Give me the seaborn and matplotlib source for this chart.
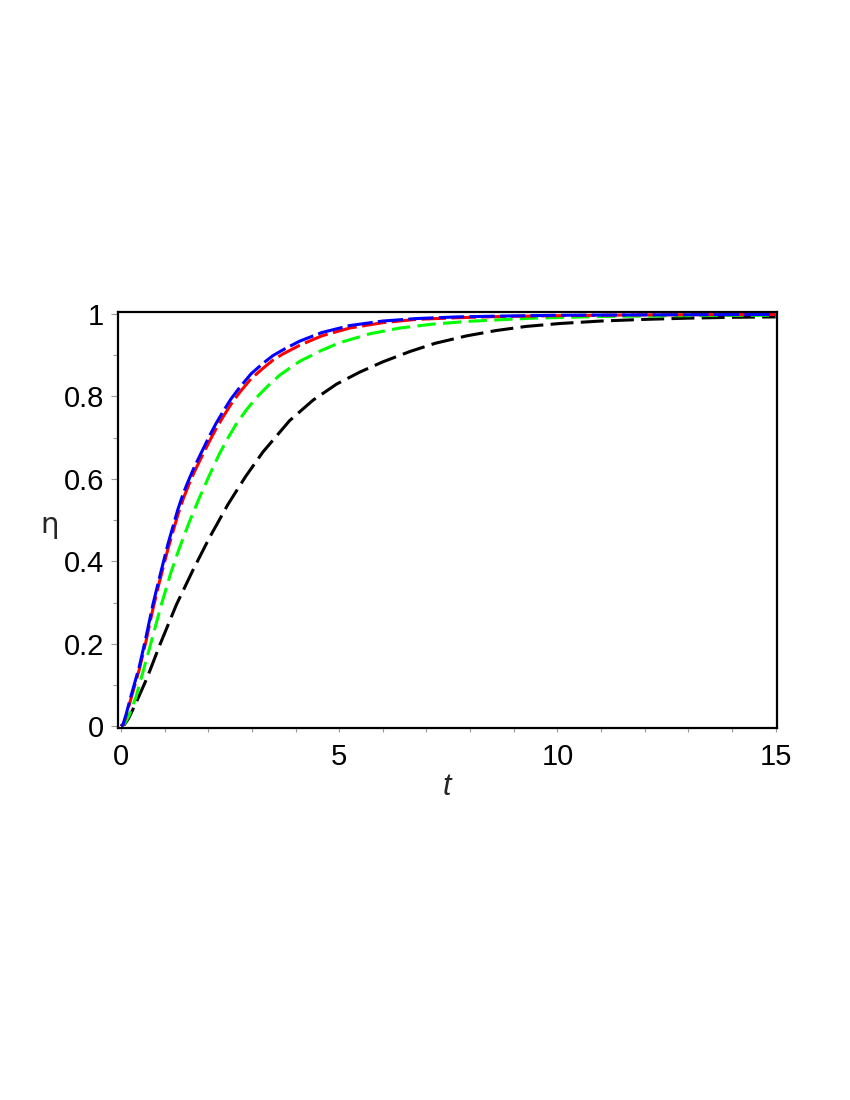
import matplotlib
matplotlib.use("Agg")
import matplotlib.pyplot as plt
import seaborn as sns
from matplotlib.ticker import MultipleLocator

# values
t_black = [0, 0.08, 0.18, 0.35, 0.6, 0.9, 1.27, 1.65, 2.03, 2.45, 2.85, 3.25, 3.86, 4.40,
           4.94, 5.47, 6.0, 6.62, 7.2, 7.92, 8.6, 9.29, 10.06, 11, 12, 13, 14, 15]
eta_black = [0, 0.004, 0.02, 0.058, 0.118, 0.2, 0.295, 0.379, 0.458, 0.538, 0.605, 0.665, 0.741, 0.791,
             0.83, 0.859, 0.884, 0.909, 0.929, 0.947, 0.96, 0.97, 0.977, 0.983, 0.987, 0.99, 0.992, 0.993]

t_green = [0, 0.08, 0.18, 0.34, 0.53, 0.72, 0.91, 1.15, 1.34, 1.57, 1.8, 2.03, 2.26, 2.45, 2.64,
           2.87, 3.10, 3.37, 3.64, 4.09, 4.6, 5.0, 5.7, 6.39, 7.1, 7.92, 9.44, 11, 13, 15]
eta_green = [0, 0.006, 0.025, 0.07, 0.142, 0.215, 0.29, 0.375, 0.433, 0.497, 0.555, 0.61, 0.662, 0.699, 0.733,
             0.767, 0.797, 0.826, 0.852, 0.885, 0.912, 0.93, 0.952, 0.966, 0.975, 0.982, 0.99, 0.994, 0.996, 0.997]

t_rb = [0, 0.05, 0.12, 0.22, 0.42, 0.57, 0.73, 0.88, 1.07, 1.30, 1.43, 1.57, 1.68, 1.80, 2.03, 2.18, 2.33,
        2.52, 2.72, 2.98, 3.25, 3.48, 3.71, 4.09, 4.6, 5.24, 6.0, 6.77, 7.7, 8.68, 10, 12, 15]
eta_red = [0, 0.004, 0.026, 0.064, 0.138, 0.205, 0.284, 0.35, 0.428, 0.512, 0.553, 0.59, 0.617, 0.643, 0.692,
           0.722, 0.749, 0.781, 0.81, 0.843, 0.868, 0.888, 0.903, 0.924, 0.947, 0.966, 0.979, 0.987, 0.991,
           0.994, 0.996, 0.998, 0.999]
eta_blue = [0, 0.005, 0.03, 0.07, 0.145, 0.215, 0.295, 0.36, 0.44, 0.525, 0.566, 0.602, 0.629, 0.655, 0.705,
            0.735, 0.762, 0.794, 0.822, 0.855, 0.88, 0.899, 0.913, 0.934, 0.955, 0.972, 0.983, 0.989, 0.993,
            0.995, 0.997, 0.998, 0.999]

x_ticks = [0, 5, 10, 15]
y_ticks = [0, 0.2, 0.4, 0.6, 0.8, 1]
y_tick_labels = ["0", "0.2", "0.4", "0.6", "0.8", "1"]

sns.set_style("white")
plt.rcParams["font.family"] = ["Liberation Sans", "DejaVu Sans"]

fig = plt.figure(figsize=(8.5, 11), dpi=100)
ax = fig.add_axes([0.1388, 0.338, 0.7752, 0.3784])

lw = 2.2
sns.lineplot(x=t_black, y=eta_black, ax=ax, color="black", linewidth=lw, linestyle=(0, (7.5, 2.4)))
sns.lineplot(x=t_green, y=eta_green, ax=ax, color="#00ff00", linewidth=lw, linestyle=(0, (6, 2.4)))
sns.lineplot(x=t_rb, y=eta_red, ax=ax, color="#ff0000", linewidth=lw, linestyle=(3, (8, 1.8)))
sns.lineplot(x=t_rb, y=eta_blue, ax=ax, color="#0000ff", linewidth=lw, linestyle=(0, (8.3, 1.7)))

ax.set_xlim(-0.07, 15.03)
ax.set_ylim(-0.005, 1.005)
ax.set_xticks(x_ticks)
ax.set_xticklabels([str(v) for v in x_ticks])
ax.set_yticks(y_ticks)
ax.set_yticklabels(y_tick_labels)
ax.xaxis.set_minor_locator(MultipleLocator(1))
ax.yaxis.set_minor_locator(MultipleLocator(0.1))

ax.tick_params(axis="both", which="both", direction="out", color="#9a9a9a", labelsize=21,
               labelcolor="black", width=0.8)
ax.tick_params(axis="y", which="major", length=5, pad=5)
ax.tick_params(axis="y", which="minor", length=3.5)
ax.tick_params(axis="x", which="both", length=3, pad=8)
ax.tick_params(bottom=True, left=True, which="both")

for side in ["top", "right", "bottom", "left"]:
    ax.spines[side].set_visible(True)
    ax.spines[side].set_color("black")
    ax.spines[side].set_linewidth(1.6)

fig.text(447 / 850, 1 - 787 / 1100, "t", fontsize=22, style="italic", ha="center", va="center")
fig.text(50 / 850, 1 - 525 / 1100, "η", fontsize=21, ha="center", va="center",
         family=["DejaVu Sans"])

fig.savefig("out.png", dpi=100)
